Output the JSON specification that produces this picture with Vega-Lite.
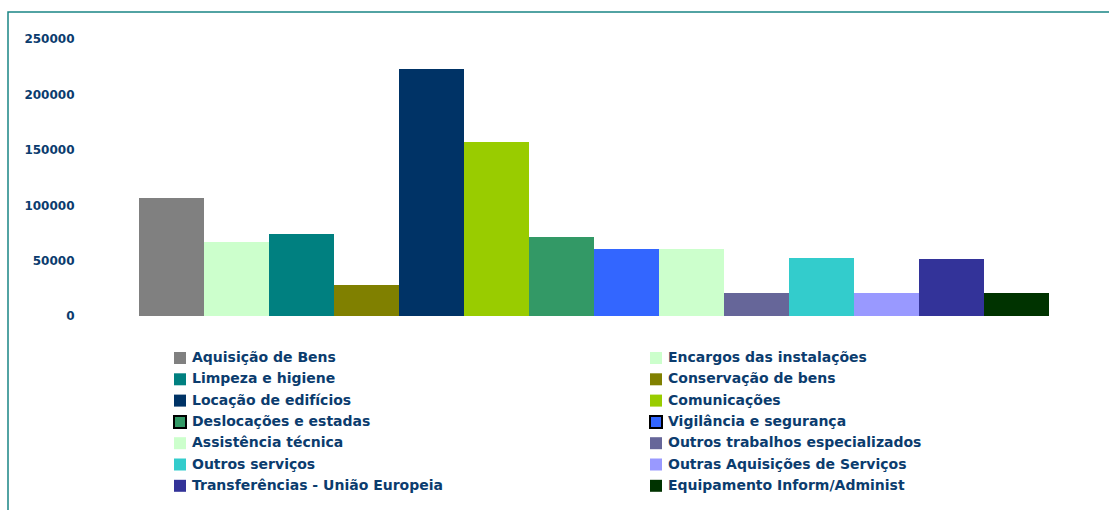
{
  "$schema": "https://vega.github.io/schema/vega-lite/v6.json",
  "autosize": "none",
  "padding": {"left": 8, "top": 12, "right": 0, "bottom": 0},
  "width": 1110,
  "height": 510,
  "background": "white",
  "config": {
    "view": {"stroke": "#1a8585", "strokeWidth": 1.5},
    "font": "DejaVu Sans"
  },
  "data": {
    "values": [
      {"cat": "Aquisição de Bens", "v": 106500},
      {"cat": "Encargos das instalações", "v": 66800},
      {"cat": "Limpeza e higiene", "v": 74000},
      {"cat": "Conservação de bens", "v": 28000},
      {"cat": "Locação de edifícios", "v": 222900},
      {"cat": "Comunicações", "v": 157000},
      {"cat": "Deslocações e estadas", "v": 71300},
      {"cat": "Vigilância e segurança", "v": 60500},
      {"cat": "Assistência técnica", "v": 60500},
      {"cat": "Outros trabalhos especializados", "v": 20800},
      {"cat": "Outros serviços", "v": 52300},
      {"cat": "Outras Aquisições de Serviços", "v": 20800},
      {"cat": "Transferências - União Europeia", "v": 51400},
      {"cat": "Equipamento Inform/Administ", "v": 20800}
    ]
  },
  "mark": {"type": "bar"},
  "encoding": {
    "x": {
      "field": "cat",
      "type": "nominal",
      "sort": null,
      "axis": null,
      "scale": {"paddingInner": 0, "paddingOuter": 0, "range": [131, 1041]}
    },
    "y": {
      "field": "v",
      "type": "quantitative",
      "stack": null,
      "scale": {"domain": [-185921, 274368], "nice": false, "zero": false},
      "axis": {
        "title": null,
        "values": [0, 50000, 100000, 150000, 200000, 250000],
        "format": "d",
        "domain": false,
        "ticks": false,
        "tickSize": 0,
        "grid": false,
        "offset": -66,
        "labelPadding": 0,
        "labelFont": "DejaVu Sans",
        "labelFontWeight": "bold",
        "labelFontSize": 12,
        "labelColor": "#0b3c6e"
      }
    },
    "color": {
      "field": "cat",
      "type": "nominal",
      "scale": {
        "domain": ["Aquisição de Bens", "Encargos das instalações", "Limpeza e higiene", "Conservação de bens", "Locação de edifícios", "Comunicações", "Deslocações e estadas", "Vigilância e segurança", "Assistência técnica", "Outros trabalhos especializados", "Outros serviços", "Outras Aquisições de Serviços", "Transferências - União Europeia", "Equipamento Inform/Administ"],
        "range": ["#808080", "#ccffcc", "#008080", "#808000", "#003366", "#99cc00", "#339966", "#3366ff", "#ccffcc", "#666699", "#33cccc", "#9999ff", "#333399", "#003300"]
      },
      "legend": {
        "title": null,
        "orient": "none",
        "direction": "horizontal",
        "legendX": 165,
        "legendY": 339,
        "columns": 2,
        "columnPadding": 203,
        "rowPadding": 1.3,
        "symbolType": "square",
        "symbolSize": 144,
        "symbolOffset": 0,
        "labelOffset": 5,
        "labelFont": "DejaVu Sans",
        "labelFontWeight": "bold",
        "labelFontSize": 14,
        "labelColor": "#0b3c6e",
        "labelLimit": 500,
        "encode": {
          "symbols": {
            "update": {
              "stroke": {"signal": "indexof(['Deslocações e estadas','Vigilância e segurança'], datum.value) >= 0 ? '#000000' : 'transparent'"},
              "strokeWidth": {"value": 2}
            }
          }
        }
      }
    }
  }
}
